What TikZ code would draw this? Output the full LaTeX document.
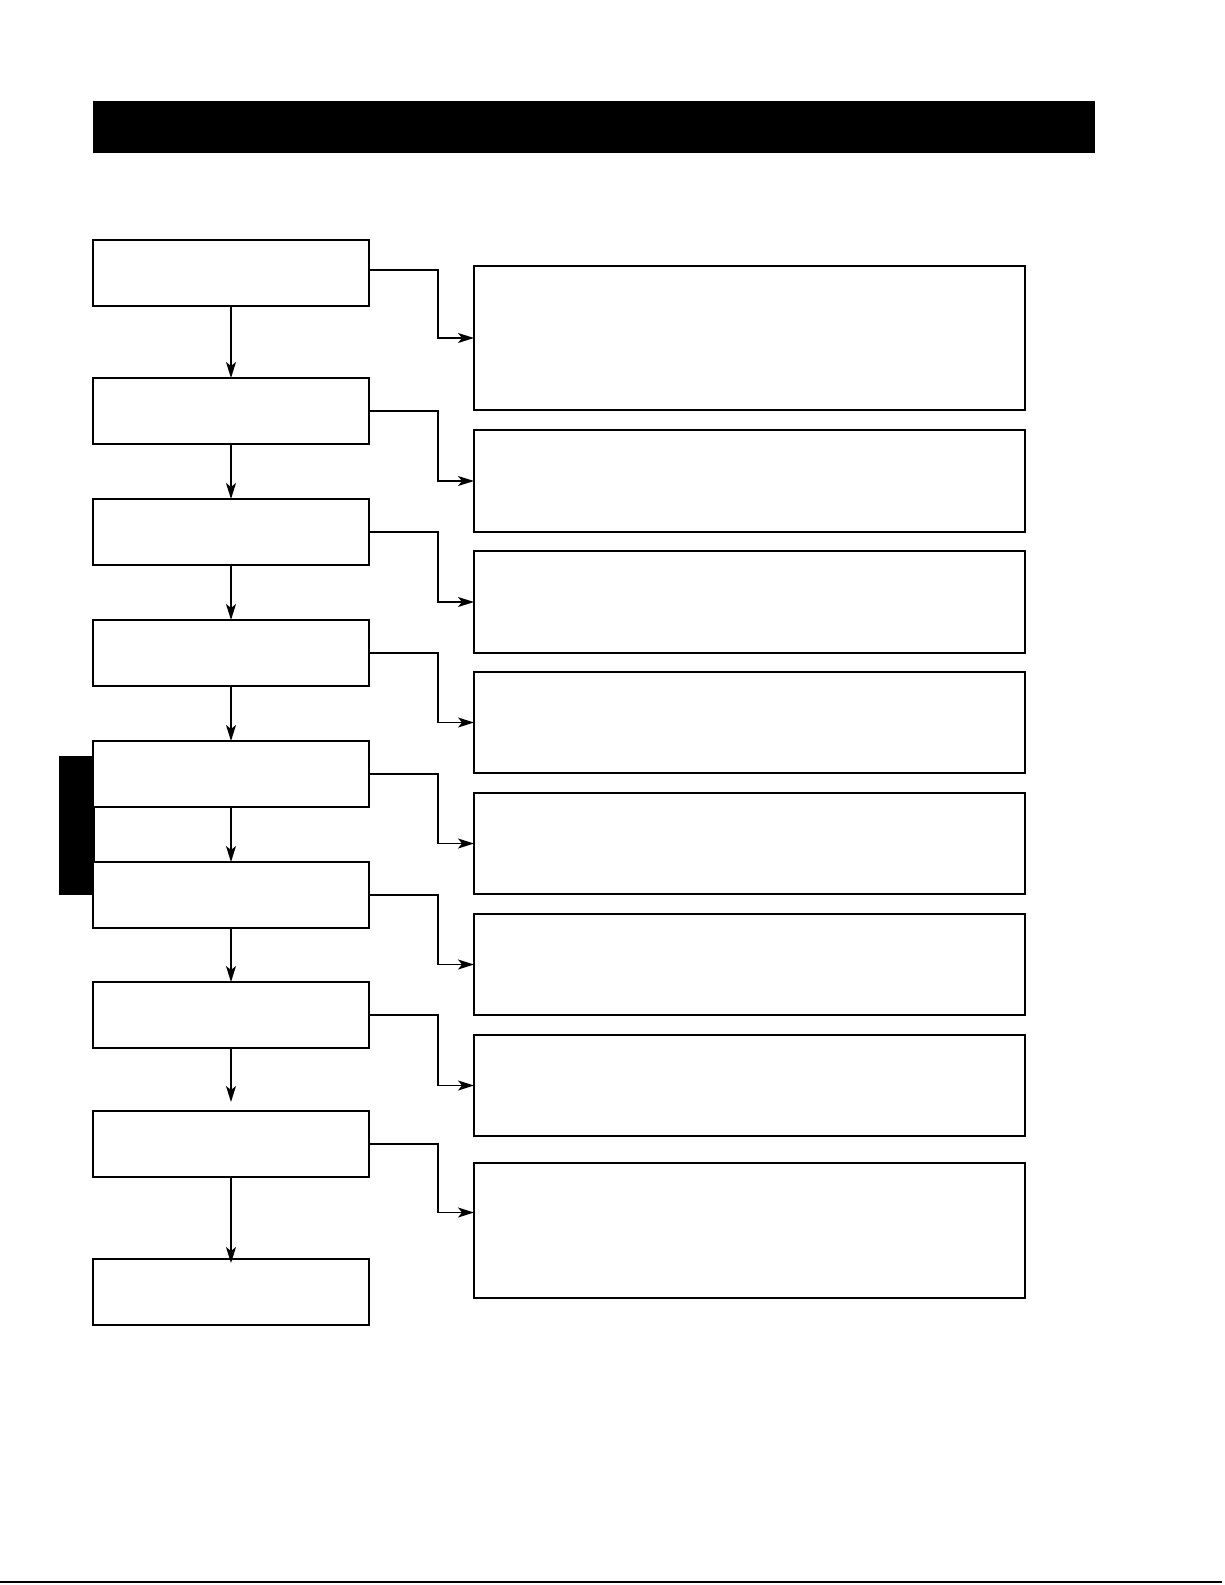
\documentclass[tikz,border=0pt]{standalone}
\usetikzlibrary{arrows.meta}
\begin{document}
\begin{tikzpicture}[x=1pt,y=-1pt,
  lbox/.style={draw,line width=1.8pt,fill=white,anchor=north west,minimum width=276pt,minimum height=66pt,inner sep=0pt,outer sep=0pt},
  rbox/.style={draw,line width=1.8pt,fill=white,anchor=north west,minimum width=551pt,inner sep=0pt,outer sep=0pt},
  down/.style={line width=1.6pt,-{Stealth[length=16pt,width=10pt,inset=4pt]}},
  conn/.style={line width=1.4pt,-{Stealth[length=16pt,width=10pt,inset=4pt]}},
  solid black/.style={fill=black,draw=none,anchor=north west,inner sep=0pt,outer sep=0pt}]
\useasboundingbox (0,0) rectangle (1225,1585);
% header bar
\node[solid black,minimum width=1002pt,minimum height=52pt] (head) at (93,101) {};
% side tab
\node[solid black,minimum width=36pt,minimum height=139pt] (tab) at (59,756) {};
% left boxes
\node[lbox] (L1) at (93,240) {};
\node[lbox] (L2) at (93,378) {};
\node[lbox] (L3) at (93,499) {};
\node[lbox] (L4) at (93,620) {};
\node[lbox] (L5) at (93,741) {};
\node[lbox] (L6) at (93,862) {};
\node[lbox] (L7) at (93,982) {};
\node[lbox] (L8) at (93,1111) {};
\node[lbox] (L9) at (93,1259) {};
% right boxes
\node[rbox,minimum height=144pt] (R1) at (474,266) {};
\node[rbox,minimum height=102pt] (R2) at (474,430) {};
\node[rbox,minimum height=102pt] (R3) at (474,551) {};
\node[rbox,minimum height=101pt] (R4) at (474,672) {};
\node[rbox,minimum height=101pt] (R5) at (474,793) {};
\node[rbox,minimum height=101pt] (R6) at (474,914) {};
\node[rbox,minimum height=101pt] (R7) at (474,1035) {};
\node[rbox,minimum height=135pt] (R8) at (474,1163) {};
% vertical arrows
\draw[down] (L1.south) -- (L2.north);
\draw[down] (L2.south) -- (L3.north);
\draw[down] (L3.south) -- (L4.north);
\draw[down] (L4.south) -- (L5.north);
\draw[down] (L5.south) -- (L6.north);
\draw[down] (L6.south) -- (L7.north);
\draw[down] (L7.south) -- ([yshift=9pt]L8.north);
\draw[down] (L8.south) -- ([yshift=-4pt]L9.north);
% connectors to right boxes
\draw[conn] ([yshift=3pt]L1.east) -- ++(69,0) |- (R1.west);
\draw[conn] (L2.east) -- ++(69,0) |- (R2.west);
\draw[conn] (L3.east) -- ++(69,0) |- (R3.west);
\draw[conn] (L4.east) -- ++(69,0) |- (R4.west);
\draw[conn] (L5.east) -- ++(69,0) |- (R5.west);
\draw[conn] (L6.east) -- ++(69,0) |- (R6.west);
\draw[conn] (L7.east) -- ++(69,0) |- (R7.west);
\draw[conn] (L8.east) -- ++(69,0) |- ([yshift=18pt]R8.west);
% bottom rule
\coordinate (bl) at (0,1582);
\coordinate (br) at (1222,1582);
\draw[line width=1.6pt] (bl) -- (br);
\end{tikzpicture}
\end{document}
